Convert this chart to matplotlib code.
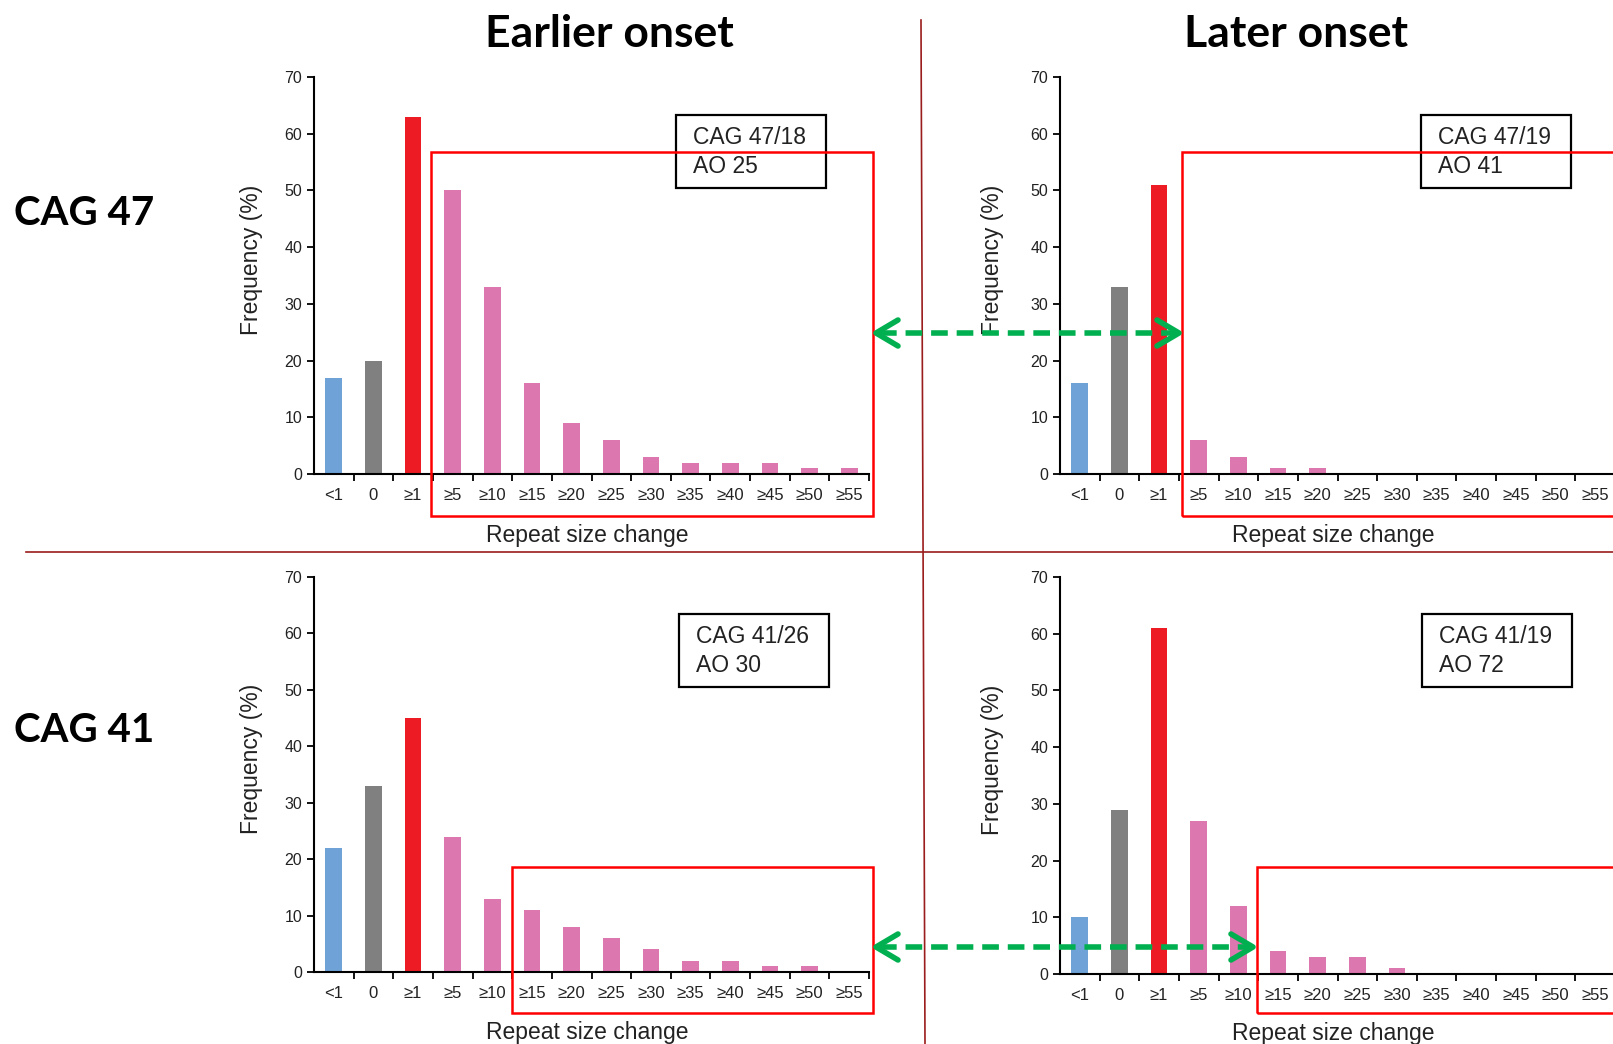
import matplotlib
matplotlib.use("Agg")
import matplotlib.pyplot as plt
import numpy as np
from matplotlib.lines import Line2D
from matplotlib.patches import Rectangle

plt.rcParams['font.family'] = ['Liberation Sans', 'DejaVu Sans']

# categories of repeat size change
categories = ["<1", "0", "\u22651", "\u22655", "\u226510", "\u226515", "\u226520",
              "\u226525", "\u226530", "\u226535", "\u226540", "\u226545", "\u226550", "\u226555"]

# frequencies (%)
cag47_early = [17, 20, 63, 50, 33, 16, 9, 6, 3, 2, 2, 2, 1, 1]
cag47_late = [16, 33, 51, 6, 3, 1, 1, 0, 0, 0, 0, 0, 0, 0]
cag41_early = [22, 33, 45, 24, 13, 11, 8, 6, 4, 2, 2, 1, 1, 0]
cag41_late = [10, 29, 61, 27, 12, 4, 3, 3, 1, 0, 0, 0, 0, 0]

box_texts = ["CAG 47/18\nAO 25", "CAG 47/19\nAO 41", "CAG 41/26\nAO 30", "CAG 41/19\nAO 72"]

col_blue = "#6fa3d8"
col_gray = "#808080"
col_red = "#ed1c24"
col_pink = "#dd77b0"
bar_colors = [col_blue, col_gray, col_red] + [col_pink] * 11

W, H = 1613, 1044
fig = plt.figure(figsize=(W / 100, H / 100), dpi=100)


def fx(x):
    return x / W


def fy(y):
    return 1 - y / H


def panel(left, top, bottom, values, ylab_x, xlab_y):
    width = 555
    ax = fig.add_axes([fx(left), fy(bottom), width / W, (bottom - top) / H])
    x = np.arange(len(categories))
    ax.bar(x, values, width=0.42, color=bar_colors)
    ax.set_xlim(-0.5, len(categories) - 0.5)
    ax.set_ylim(0, 70)
    ax.set_yticks(range(0, 71, 10))
    ax.set_xticks(x)
    ax.set_xticklabels(categories)
    ax.set_xticks(np.arange(0.5, len(categories), 1), minor=True)
    ax.tick_params(axis="x", which="major", length=0, labelsize=12, pad=10, colors="#222222")
    ax.tick_params(axis="x", which="minor", length=5, width=1.3, direction="out")
    ax.tick_params(axis="y", length=5, width=1.3, labelsize=11.5, colors="#222222")
    ax.tick_params(axis="both", which="both", color="black")
    for s in ["top", "right"]:
        ax.spines[s].set_visible(False)
    for s in ["left", "bottom"]:
        ax.spines[s].set_linewidth(1.5)
    ax.set_ylabel("Frequency (%)", fontsize=16.5, color="#222222")
    ax.yaxis.set_label_coords(ylab_x, 0.54)
    ax.set_xlabel("Repeat size change", fontsize=16.5, color="#222222")
    ax.xaxis.set_label_coords(0.492, xlab_y)
    ax.patch.set_alpha(0)
    return ax


panel(314, 77, 474, cag47_early, -0.091, -0.127)
panel(1060, 77, 474, cag47_late, -0.100, -0.127)
panel(314, 577, 972, cag41_early, -0.091, -0.125)
panel(1060, 577, 974, cag41_late, -0.100, -0.122)

# info boxes
box_pos = [(676, 115), (1421, 115), (679, 614), (1422, 614)]
for (bx, by), txt in zip(box_pos, box_texts):
    fig.patches.append(Rectangle((fx(bx), fy(by + 73)), 150 / W, 73 / H,
                                 transform=fig.transFigure, fill=False,
                                 edgecolor="black", linewidth=1.6))
    fig.text(fx(bx + 17), fy(by + 37), txt, fontsize=16.5, va="center", ha="left",
             color="#222222", linespacing=1.3)

# red highlight rectangles
red_boxes = [(431, 152, 873, 516), (1182, 152, 1625, 516),
             (512, 867, 873, 1013), (1257, 867, 1625, 1013)]
for x0, y0, x1, y1 in red_boxes:
    fig.patches.append(Rectangle((fx(x0), fy(y1)), (x1 - x0) / W, (y1 - y0) / H,
                                 transform=fig.transFigure, fill=False,
                                 edgecolor="#ff0000", linewidth=1.8, zorder=5))

# green dashed double arrows
green = "#00b050"
for x0, x1, y in [(876, 1179, 333), (876, 1253, 947)]:
    fig.lines.append(Line2D([fx(x0 + 4), fx(x1 - 4)], [fy(y), fy(y)], transform=fig.transFigure,
                            color=green, linewidth=4, linestyle=(0, (3, 1.6)), zorder=6))
    for tip, d in [(x0, 1), (x1, -1)]:
        fig.lines.append(Line2D([fx(tip + d * 22), fx(tip), fx(tip + d * 22)],
                                [fy(y - 13), fy(y), fy(y + 13)], transform=fig.transFigure,
                                color=green, linewidth=4, solid_capstyle="round",
                                solid_joinstyle="round", zorder=6))

# divider lines
dark_red = "#9b1c1c"
fig.lines.append(Line2D([fx(921), fx(925)], [fy(20), fy(1044)], transform=fig.transFigure,
                        color=dark_red, linewidth=1.2))
fig.lines.append(Line2D([fx(26), fx(1613)], [fy(552), fy(552)], transform=fig.transFigure,
                        color=dark_red, linewidth=1.2))

# titles and row labels
title_font = dict(family=["Lato", "DejaVu Sans"], fontweight="bold", color="black")
fig.text(fx(609), fy(34), "Earlier onset", fontsize=32, ha="center", va="center", **title_font)
fig.text(fx(1296), fy(34), "Later onset", fontsize=32, ha="center", va="center", **title_font)
fig.text(fx(14), fy(213), "CAG 47", fontsize=29, ha="left", va="center", **title_font)
fig.text(fx(14), fy(731), "CAG 41", fontsize=29, ha="left", va="center", **title_font)

fig.savefig("out.png", dpi=100, facecolor="white")
